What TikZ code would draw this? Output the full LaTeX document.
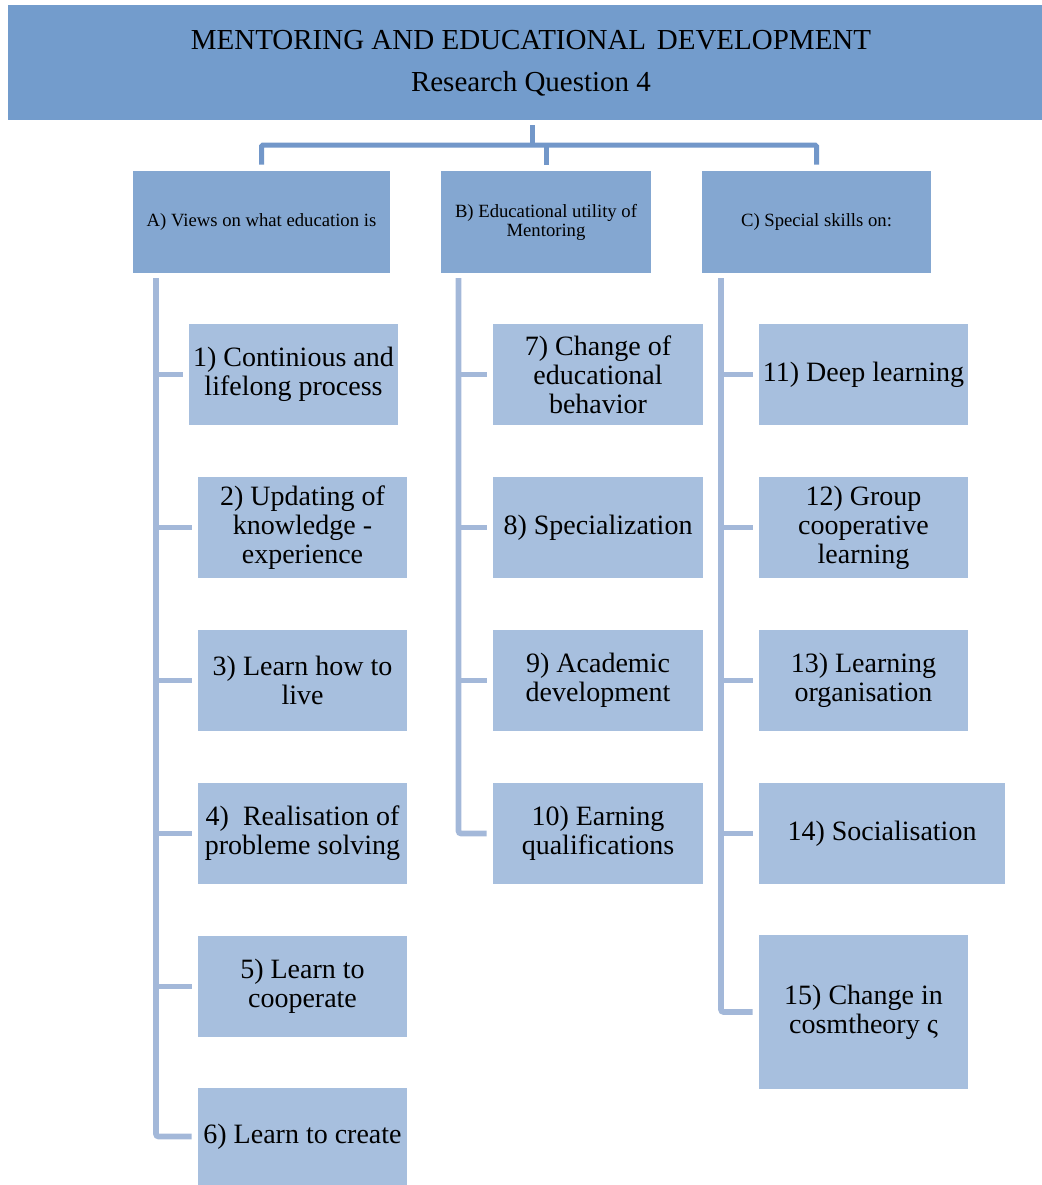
\documentclass[tikz,border=0pt]{standalone}
\usepackage{fontspec}
\setmainfont{Liberation Serif}
\usetikzlibrary{calc}
\definecolor{titlefill}{RGB}{115,156,204}
\definecolor{headfill}{RGB}{132,167,209}
\definecolor{itemfill}{RGB}{167,191,222}
\definecolor{mainlinecol}{RGB}{114,151,201}
\definecolor{sublinecol}{RGB}{163,184,217}
\begin{document}
\begin{tikzpicture}[x=0.75pt,y=-0.75pt,
  titlebox/.style={fill=titlefill, inner sep=0pt, minimum width=775.5pt, minimum height=86.25pt},
  titletext/.style={inner sep=0pt, align=center, font=\fontsize{21.75}{31.5}\selectfont},
  headbox/.style={fill=headfill, inner sep=0pt, minimum height=76.5pt, align=center,
    font=\fontsize{14}{14.25}\selectfont},
  itembox/.style={fill=itemfill, inner sep=0pt, minimum width=156.75pt, minimum height=75.75pt,
    align=center, font=\fontsize{21}{21.75}\selectfont},
  mainconn/.style={draw=mainlinecol, line width=3.75pt},
  subconn/.style={draw=sublinecol, line width=4.3pt}
]
\useasboundingbox (0,0) rectangle (1042,1185);

% title block
\node[titlebox] (title) at (525,62.5) {};
\node[titletext] (titlelbl) at (531,63.5) {MENTORING AND EDUCATIONAL\hspace{0.12em} DEVELOPMENT\\Research Question 4};

% three headings
\node[headbox, minimum width=192.75pt] (A) at (261.5,222) {A) Views on what education is};
\node[headbox, minimum width=157.5pt]  (B) at (546,222) {B) Educational utility of\\Mentoring};
\node[headbox, minimum width=171.75pt] (C) at (816.5,222) {C) Special skills on:};

% column A
\node[itembox] (a1) at (293.5,374.5) {1) Continious and\\lifelong process};
\node[itembox] (a2) at (302.5,527.5) {2) Updating of\\knowledge -\\experience};
\node[itembox] (a3) at (302.5,680.5) {3) Learn how to\\live};
\node[itembox] (a4) at (302.5,833.5) {4)\ \ Realisation of\\probleme solving};
\node[itembox] (a5) at (302.5,986.5) {5) Learn to\\cooperate};
\node[itembox, minimum height=72.75pt] (a6) at (302.5,1136.5) {6) Learn to create};

% column B
\node[itembox, minimum width=157.5pt] (b1) at (598,374.5) {7) Change of\\educational\\behavior};
\node[itembox, minimum width=157.5pt] (b2) at (598,527.5) {8) Specialization};
\node[itembox, minimum width=157.5pt] (b3) at (598,680.5) {9) Academic\\development};
\node[itembox, minimum width=157.5pt] (b4) at (598,833.5) {10) Earning\\qualifications};

% column C
\node[itembox] (c1) at (863.5,374.5) {11) Deep learning};
\node[itembox] (c2) at (863.5,527.5) {12) Group\\cooperative\\learning};
\node[itembox] (c3) at (863.5,680.5) {13) Learning\\organisation};
\node[itembox, minimum width=184.5pt] (c4) at (882,833.5) {14) Socialisation};
\node[itembox, minimum height=115.5pt] (c5) at (863.5,1012) {15) Change in\\cosmtheory ς};

% bracket from the title to the headings
\coordinate (hub) at (532,145);
\draw[mainconn] (title.south -| hub) ++(0,5) -- (hub);
\draw[mainconn, rounded corners=1pt] ($(A.north)+(0,-6)$) |- (hub) -| ($(C.north)+(0,-6)$);
\draw[mainconn] ($(B.north)+(0,-6)$) -- (B.north |- hub);

% spines under each heading
\coordinate (sA) at (156,278);
\coordinate (sB) at (458.5,278);
\coordinate (sC) at (721,278);

\draw[subconn, rounded corners=2pt] (sA) |- ($(a6.west)+(-6,0)$);
\foreach \n in {a1,a2,a3,a4,a5}
  \draw[subconn] (sA |- \n.west) -- ($(\n.west)+(-6,0)$);

\draw[subconn, rounded corners=2pt] (sB) |- ($(b4.west)+(-6,0)$);
\foreach \n in {b1,b2,b3}
  \draw[subconn] (sB |- \n.west) -- ($(\n.west)+(-6,0)$);

\draw[subconn, rounded corners=2pt] (sC) |- ($(c5.west)+(-6,0)$);
\foreach \n in {c1,c2,c3,c4}
  \draw[subconn] (sC |- \n.west) -- ($(\n.west)+(-6,0)$);
\end{tikzpicture}
\end{document}
